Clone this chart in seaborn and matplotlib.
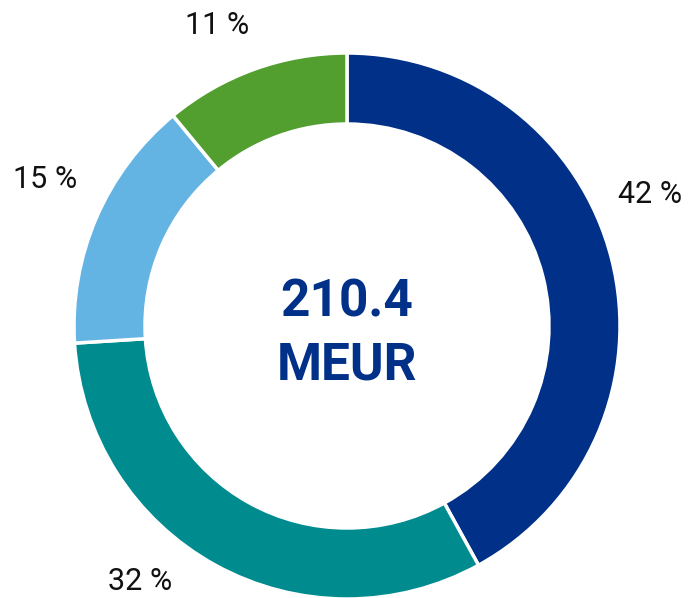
import matplotlib.pyplot as plt
import seaborn as sns

# Andelar (%) medurs från toppen
shares = [42, 32, 15, 11]
labels = ['42 %', '32 %', '15 %', '11 %']
colors = ['#003087', '#008B8F', '#63B3E3', '#529E2F']
total_text = '210.4\nMEUR'

# Etikettplacering (axes-fraktion)
label_pos = [(0.94, 0.674), (0.203, 0.027), (0.065, 0.699), (0.314, 0.958)]

sns.set_theme(style='white')
plt.rcParams['font.family'] = ['Roboto', 'DejaVu Sans']

fig = plt.figure(figsize=(6.92, 5.98), dpi=100)
ax = fig.add_axes([0, 0, 1, 1])

ax.pie(shares, colors=colors, startangle=90, counterclock=False,
       radius=273, center=(347, 272),
       wedgeprops=dict(width=71, edgecolor='white', linewidth=2.5))

ax.set_xlim(0, 692)
ax.set_ylim(0, 598)
ax.set_aspect('equal')
ax.axis('off')

for lab, (x, y) in zip(labels, label_pos):
    ax.text(x, y, lab, transform=ax.transAxes, ha='center', va='center',
            fontsize=22, color='#111111')

ax.text(347, 264, total_text, ha='center', va='center', fontsize=37,
        fontweight='bold', color='#003087', linespacing=1.32)

fig.savefig('out.png', dpi=100, facecolor='white')
